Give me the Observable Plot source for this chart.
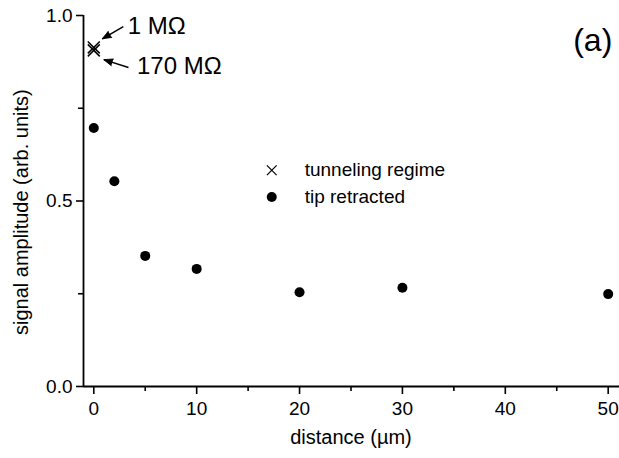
<!DOCTYPE html>
<html>
<head>
<meta charset="utf-8">
<script src="https://cdn.jsdelivr.net/npm/d3@7"></script>
<script src="https://cdn.jsdelivr.net/npm/@observablehq/plot@0.6"></script>
<style>
  html, body { margin: 0; padding: 0; background: #fff; }
  svg { font-family: "Liberation Sans", Arial, sans-serif; }
</style>
</head>
<body>
<div id="chart"></div>
<script>
// Data
const retractedDistance = [0, 2, 5, 10, 20, 30, 50];
const retractedAmplitude = [0.697, 0.553, 0.352, 0.317, 0.254, 0.266, 0.249];
const tunnelingDistance = [0, 0];
const tunnelingAmplitude = [0.914, 0.906];
const tunnelingLabels = ["1 MΩ", "170 MΩ"];

const xMajorTicks = [0, 10, 20, 30, 40, 50];
const xMinorTicks = [5, 15, 25, 35, 45];
const yMajorTicks = [0, 0.5, 1.0];
const yMinorTicks = [0.25, 0.75];

const legendLabels = ["tunneling regime", "tip retracted"];
const panelLabel = "(a)";
const xLabel = "distance (µm)";
const yLabel = "signal amplitude (arb. units)";

// Annotation anchor positions (data space)
const annotTextX = [3.3, 4.2];
const annotTextY = [0.972, 0.862];
const arrowFrom = [[2.87, 0.97], [3.37, 0.86]];
const arrowTo = [[0.82, 0.937], [0.97, 0.881]];
const legendX = 17.3;
const legendTextX = 20.5;
const legendY = [0.583, 0.511];
const panelX = 48.5;
const panelY = 0.933;

const W = 619, H = 458, ML = 83, MR = 0, MT = 15, MB = 72;
const xDomain = [-1, 51.1], yDomain = [0, 1];
const pxX = (W - ML - MR) / (xDomain[1] - xDomain[0]);
const pxY = (H - MT - MB) / (yDomain[1] - yDomain[0]);

const retracted = retractedDistance.map((d, i) => ({x: d, y: retractedAmplitude[i]}));
const tunneling = tunnelingDistance.map((d, i) => ({x: d, y: tunnelingAmplitude[i], label: tunnelingLabels[i]}));
const annots = tunnelingLabels.map((l, i) => {
  const [x1, y1] = arrowFrom[i], [x2, y2] = arrowTo[i];
  const dx = (x2 - x1) * pxX, dy = -(y2 - y1) * pxY;
  const rot = Math.atan2(dx, -dy) * 180 / Math.PI;
  return {label: l, x: annotTextX[i], y: annotTextY[i], x1, y1, x2, y2, rot};
});

const chart = Plot.plot({
  width: W,
  height: H,
  marginLeft: ML,
  marginRight: MR,
  marginTop: MT,
  marginBottom: MB,
  style: {fontFamily: "'Liberation Sans', Arial, sans-serif", color: "#000", background: "#fff"},
  x: {domain: xDomain},
  y: {domain: yDomain},
  marks: [
    // axes
    Plot.axisX({ticks: xMajorTicks, tickSize: 8, tickPadding: 7, fontSize: 19, strokeWidth: 1.6,
      label: null}),
    Plot.axisX({ticks: xMinorTicks, tickSize: 5, tickFormat: () => "", strokeWidth: 1.6, label: null}),
    Plot.axisY({ticks: yMajorTicks, tickSize: 7, tickPadding: 4, fontSize: 19, strokeWidth: 1.6,
      tickFormat: d3.format(".1f"), label: null}),
    Plot.axisY({ticks: yMinorTicks, tickSize: 5, tickFormat: () => "", strokeWidth: 1.6, label: null}),
    Plot.ruleY([0], {strokeWidth: 1.8}),
    Plot.ruleX([-1], {y1: 0, y2: 1, strokeWidth: 1.8}),
    // axis titles
    Plot.text([xLabel], {x: 25, y: -0.137, text: d => d, fontSize: 20}),
    Plot.text([yLabel], {x: -7.0, y: 0.47, text: d => d, fontSize: 20, rotate: -90}),
    // data
    Plot.dot(retracted, {x: "x", y: "y", r: 5, fill: "#000", stroke: "none"}),
    Plot.dot(tunneling, {x: "x", y: "y", symbol: "times", r: 5.5, stroke: "#000", strokeWidth: 1.5}),
    // annotations
    Plot.link(annots, {x1: "x1", y1: "y1", x2: "x2", y2: "y2", strokeWidth: 1.5}),
    Plot.vector(annots, {x: "x2", y: "y2", rotate: "rot", length: 9, r: 3.5, shape: "spike",
      anchor: "end", fill: "#000", stroke: "#000", strokeWidth: 0.8}),
    Plot.text(annots, {x: "x", y: "y", text: "label", textAnchor: "start", fontSize: 24}),
    // legend
    Plot.dot([legendLabels[0]], {x: legendX, y: legendY[0], symbol: "times", r: 4.5, stroke: "#000", strokeWidth: 1.2}),
    Plot.dot([legendLabels[1]], {x: legendX, y: legendY[1], r: 5, fill: "#000", stroke: "none"}),
    Plot.text(legendLabels, {x: legendTextX, y: (d, i) => legendY[i], text: d => d, textAnchor: "start", fontSize: 19}),
    // panel label
    Plot.text([panelLabel], {x: panelX, y: panelY, text: d => d, fontSize: 32})
  ]
});
document.getElementById("chart").appendChild(chart);
</script>
</body>
</html>
